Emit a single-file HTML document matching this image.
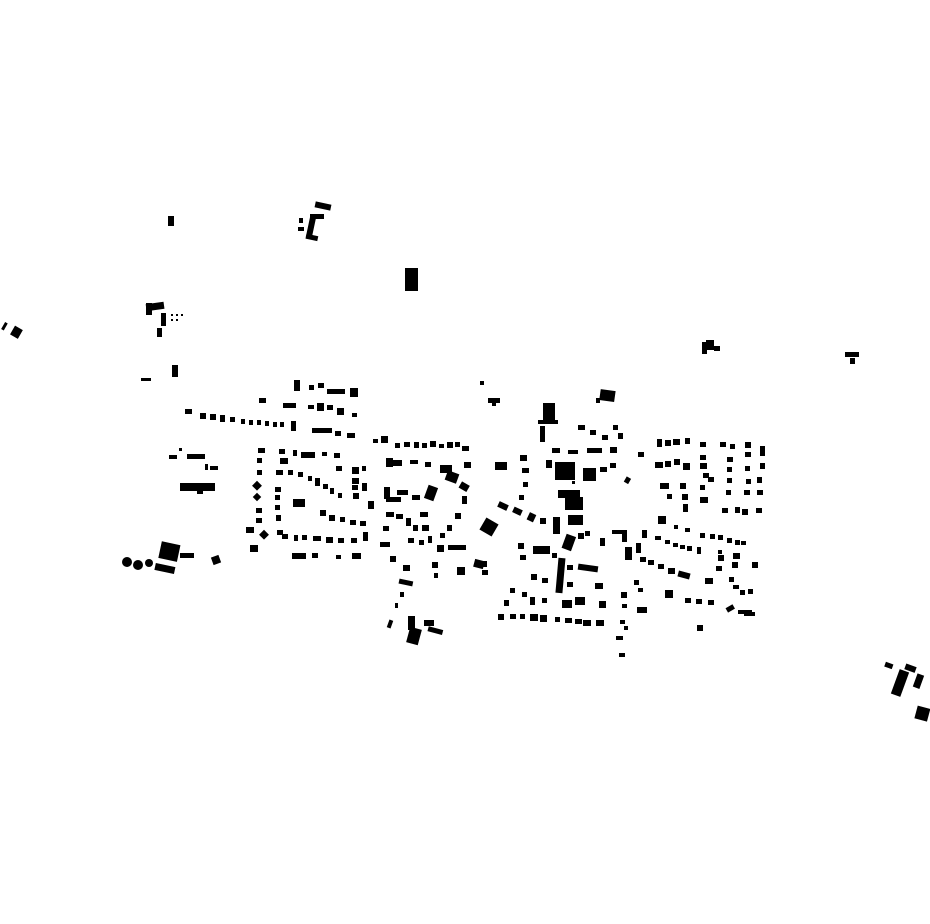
<!DOCTYPE html>
<html><head><meta charset="utf-8"><style>html,body{margin:0;padding:0;background:#fff}svg{display:block}</style></head>
<body>
<svg width="930" height="924" viewBox="0 0 930 924" xmlns="http://www.w3.org/2000/svg">
<g fill="#000">
<!-- outliers -->
<rect x="168" y="216" width="6" height="10"/>
<rect x="315" y="203" width="16" height="6" transform="rotate(12 323 206)"/>
<rect x="308" y="216" width="6" height="22" transform="rotate(12 311 227)"/>
<rect x="310" y="214" width="14" height="5"/>
<rect x="299" y="218" width="4" height="5"/>
<rect x="298" y="227" width="6" height="4"/>
<rect x="306" y="235" width="12" height="5" transform="rotate(12 312 237)"/>
<rect x="405" y="268" width="13" height="23"/>
<rect x="146" y="303" width="6" height="12"/>
<rect x="146" y="303" width="18" height="7" transform="rotate(-8 155 306)"/>
<rect x="161" y="313" width="5" height="13"/>
<rect x="157" y="328" width="5" height="9"/>
<rect x="171" y="314" width="2" height="2"/><rect x="176" y="314" width="2" height="2"/><rect x="181" y="314" width="2" height="2"/>
<rect x="171" y="319" width="2" height="2"/><rect x="176" y="319" width="2" height="2"/>
<rect x="12" y="327" width="9" height="10" transform="rotate(30 16 332)"/>
<rect x="3" y="322" width="3" height="8" transform="rotate(30 4 326)"/>
<rect x="141" y="378" width="10" height="3"/>
<rect x="172" y="365" width="6" height="12"/>
<rect x="702" y="342" width="5" height="12"/>
<rect x="706" y="340" width="8" height="10"/>
<rect x="714" y="346" width="6" height="5"/>
<rect x="845" y="352" width="14" height="5"/>
<rect x="850" y="358" width="5" height="6"/>
<rect x="885" y="663" width="8" height="5" transform="rotate(20 889 665)"/>
<rect x="895" y="670" width="10" height="26" transform="rotate(20 900 683)"/>
<rect x="905" y="665" width="11" height="6" transform="rotate(20 910 668)"/>
<rect x="915" y="674" width="7" height="14" transform="rotate(20 918 681)"/>
<rect x="916" y="707" width="13" height="13" transform="rotate(15 922 713)"/>
<circle cx="127" cy="562" r="5"/><circle cx="138" cy="565" r="5"/><circle cx="149" cy="563" r="4"/>
<rect x="160" y="543" width="19" height="17" transform="rotate(12 169 551)"/>
<rect x="180" y="553" width="14" height="5"/>
<rect x="155" y="565" width="20" height="7" transform="rotate(12 165 568)"/>
<rect x="212" y="556" width="8" height="8" transform="rotate(-20 216 560)"/>
<rect x="388" y="620" width="4" height="8" transform="rotate(20 390 624)"/>
<rect x="408" y="616" width="7" height="14"/>
<rect x="408" y="628" width="12" height="16" transform="rotate(15 414 636)"/>
<rect x="424" y="620" width="10" height="6"/>
<rect x="428" y="628" width="15" height="5" transform="rotate(15 435 630)"/>
<rect x="480" y="381" width="4" height="4"/>
<rect x="488" y="398" width="12" height="5"/>
<rect x="492" y="402" width="4" height="4"/>
<!-- NW rows -->
<rect x="294" y="380" width="6" height="11"/>
<rect x="309" y="385" width="5" height="5"/><rect x="318" y="383" width="6" height="5"/>
<rect x="327" y="389" width="18" height="5"/><rect x="350" y="388" width="8" height="9"/>
<rect x="259" y="398" width="7" height="5"/>
<rect x="283" y="403" width="13" height="5"/>
<rect x="308" y="405" width="6" height="4"/><rect x="317" y="403" width="7" height="8"/>
<rect x="327" y="405" width="6" height="5"/><rect x="337" y="408" width="7" height="7"/><rect x="352" y="413" width="5" height="4"/>
<rect x="185" y="409" width="7" height="5"/>
<rect x="200" y="413" width="6" height="6"/><rect x="210" y="414" width="6" height="6"/><rect x="220" y="415" width="5" height="7"/>
<rect x="230" y="417" width="5" height="5"/><rect x="241" y="419" width="4" height="5"/><rect x="249" y="420" width="4" height="5"/>
<rect x="257" y="420" width="4" height="5"/><rect x="265" y="421" width="4" height="5"/><rect x="273" y="422" width="4" height="5"/><rect x="280" y="422" width="4" height="5"/>
<rect x="291" y="421" width="5" height="10"/>
<rect x="312" y="428" width="20" height="5"/><rect x="335" y="431" width="6" height="5"/><rect x="347" y="433" width="8" height="5"/>
<rect x="169" y="455" width="8" height="4"/><rect x="179" y="448" width="3" height="3"/>
<rect x="187" y="454" width="18" height="5"/>
<rect x="205" y="464" width="3" height="6"/><rect x="210" y="466" width="8" height="4"/>
<rect x="180" y="483" width="35" height="8"/><rect x="197" y="488" width="6" height="6"/>
<!-- west loop -->
<rect x="258" y="448" width="7" height="5"/>
<rect x="257" y="458" width="5" height="5"/><rect x="257" y="470" width="5" height="5"/>
<rect x="254" y="482" width="7" height="7" transform="rotate(45 257 485)"/>
<rect x="254" y="494" width="6" height="6" transform="rotate(45 257 497)"/>
<rect x="256" y="508" width="6" height="5"/><rect x="256" y="518" width="6" height="5"/>
<rect x="246" y="527" width="8" height="6"/><rect x="261" y="531" width="7" height="7" transform="rotate(45 264 534)"/>
<rect x="250" y="545" width="8" height="7"/>
<rect x="279" y="449" width="6" height="5"/><rect x="293" y="450" width="4" height="6"/>
<rect x="301" y="452" width="14" height="6"/><rect x="322" y="452" width="5" height="4"/><rect x="334" y="453" width="6" height="5"/>
<rect x="280" y="458" width="8" height="6"/><rect x="276" y="470" width="7" height="5"/><rect x="288" y="470" width="5" height="5"/>
<rect x="298" y="472" width="5" height="5"/><rect x="308" y="476" width="4" height="5"/><rect x="315" y="478" width="5" height="8"/>
<rect x="323" y="484" width="5" height="5"/><rect x="330" y="488" width="4" height="6"/><rect x="338" y="493" width="4" height="5"/>
<rect x="336" y="466" width="6" height="5"/><rect x="352" y="467" width="7" height="7"/><rect x="352" y="478" width="7" height="6"/>
<rect x="352" y="485" width="6" height="5"/><rect x="353" y="493" width="6" height="6"/><rect x="362" y="466" width="4" height="5"/>
<rect x="362" y="483" width="5" height="8"/><rect x="368" y="501" width="6" height="8"/>
<rect x="275" y="487" width="6" height="5"/><rect x="275" y="495" width="5" height="5"/>
<rect x="293" y="499" width="12" height="8"/>
<rect x="275" y="505" width="5" height="5"/><rect x="276" y="515" width="5" height="6"/>
<rect x="277" y="530" width="6" height="5"/>
<rect x="320" y="510" width="6" height="6"/><rect x="329" y="515" width="6" height="6"/><rect x="340" y="517" width="5" height="5"/>
<rect x="350" y="520" width="6" height="5"/><rect x="360" y="521" width="6" height="5"/>
<rect x="282" y="534" width="6" height="5"/><rect x="294" y="535" width="4" height="6"/><rect x="302" y="535" width="5" height="5"/>
<rect x="313" y="536" width="8" height="5"/><rect x="326" y="537" width="7" height="6"/><rect x="338" y="538" width="6" height="5"/>
<rect x="351" y="538" width="6" height="5"/><rect x="363" y="532" width="5" height="9"/>
<rect x="292" y="553" width="14" height="6"/><rect x="312" y="553" width="6" height="5"/><rect x="336" y="555" width="5" height="4"/><rect x="352" y="553" width="9" height="6"/>
<!-- central-west -->
<rect x="373" y="439" width="5" height="4"/><rect x="381" y="436" width="7" height="7"/><rect x="395" y="443" width="5" height="5"/>
<rect x="404" y="442" width="6" height="5"/><rect x="414" y="442" width="5" height="6"/><rect x="422" y="443" width="5" height="5"/>
<rect x="430" y="441" width="6" height="6"/><rect x="439" y="444" width="5" height="4"/><rect x="447" y="442" width="6" height="6"/>
<rect x="455" y="442" width="5" height="5"/><rect x="462" y="446" width="7" height="5"/>
<rect x="386" y="458" width="7" height="9"/><rect x="388" y="460" width="14" height="6"/>
<rect x="410" y="460" width="8" height="4"/><rect x="425" y="462" width="6" height="5"/><rect x="440" y="465" width="12" height="8"/>
<rect x="446" y="472" width="12" height="10" transform="rotate(20 452 477)"/><rect x="460" y="483" width="9" height="7" transform="rotate(30 464 486)"/>
<rect x="464" y="462" width="7" height="6"/>
<rect x="384" y="487" width="6" height="12"/><rect x="386" y="497" width="15" height="5"/>
<rect x="397" y="490" width="11" height="5"/><rect x="412" y="495" width="8" height="5"/>
<rect x="426" y="486" width="10" height="14" transform="rotate(20 431 493)"/>
<rect x="462" y="496" width="5" height="8"/><rect x="455" y="513" width="6" height="6"/><rect x="447" y="525" width="5" height="6"/>
<rect x="440" y="533" width="5" height="5"/><rect x="437" y="545" width="7" height="7"/>
<rect x="386" y="512" width="8" height="5"/><rect x="396" y="514" width="7" height="5"/><rect x="406" y="518" width="5" height="8"/>
<rect x="413" y="525" width="5" height="6"/><rect x="420" y="512" width="8" height="5"/><rect x="422" y="525" width="7" height="6"/>
<rect x="383" y="526" width="6" height="5"/><rect x="380" y="542" width="10" height="5"/>
<rect x="408" y="538" width="6" height="5"/><rect x="419" y="540" width="5" height="5"/><rect x="428" y="536" width="4" height="7"/>
<rect x="448" y="545" width="18" height="5"/>
<rect x="390" y="556" width="6" height="6"/><rect x="403" y="565" width="7" height="6"/><rect x="399" y="580" width="14" height="5" transform="rotate(12 406 582)"/>
<rect x="432" y="562" width="6" height="6"/><rect x="434" y="573" width="4" height="5"/>
<rect x="457" y="567" width="8" height="8"/><rect x="474" y="560" width="10" height="8" transform="rotate(15 479 564)"/>
<rect x="482" y="570" width="6" height="5"/>
<rect x="400" y="592" width="4" height="5"/><rect x="395" y="603" width="3" height="5"/>
<!-- central -->
<rect x="482" y="520" width="14" height="14" transform="rotate(30 489 527)"/>
<rect x="495" y="462" width="12" height="8"/>
<rect x="498" y="503" width="10" height="6" transform="rotate(25 503 506)"/>
<rect x="513" y="508" width="9" height="6" transform="rotate(25 517 511)"/>
<rect x="528" y="513" width="7" height="8" transform="rotate(25 531 517)"/><rect x="540" y="518" width="6" height="6"/>
<rect x="553" y="517" width="7" height="17"/>
<rect x="520" y="455" width="7" height="6"/><rect x="522" y="468" width="7" height="5"/><rect x="523" y="482" width="5" height="5"/><rect x="519" y="495" width="5" height="5"/>
<rect x="543" y="403" width="12" height="19"/><rect x="538" y="420" width="20" height="4"/><rect x="540" y="426" width="5" height="16"/>
<rect x="600" y="390" width="15" height="11" transform="rotate(8 607 395)"/><rect x="596" y="398" width="4" height="5"/>
<rect x="578" y="425" width="7" height="5"/><rect x="590" y="430" width="6" height="5"/><rect x="602" y="435" width="6" height="5"/>
<rect x="613" y="425" width="5" height="5"/><rect x="618" y="433" width="5" height="6"/><rect x="610" y="447" width="7" height="6"/>
<rect x="552" y="448" width="8" height="5"/><rect x="568" y="450" width="10" height="4"/><rect x="587" y="448" width="15" height="5"/>
<rect x="546" y="460" width="6" height="8"/>
<rect x="555" y="462" width="20" height="18"/><rect x="583" y="468" width="13" height="13"/><rect x="600" y="467" width="7" height="5"/><rect x="610" y="463" width="6" height="5"/>
<rect x="625" y="477" width="5" height="6" transform="rotate(30 627 480)"/>
<rect x="572" y="481" width="3" height="3"/>
<rect x="558" y="490" width="22" height="8"/><rect x="565" y="497" width="18" height="13"/><rect x="568" y="515" width="15" height="10"/>
<rect x="564" y="535" width="10" height="15" transform="rotate(20 569 542)"/><rect x="578" y="533" width="6" height="6"/><rect x="585" y="531" width="5" height="5"/>
<rect x="600" y="538" width="5" height="8"/><rect x="612" y="530" width="15" height="4"/><rect x="622" y="530" width="5" height="12"/>
<rect x="518" y="543" width="6" height="6"/><rect x="520" y="555" width="6" height="5"/><rect x="533" y="546" width="17" height="8"/><rect x="552" y="553" width="5" height="5"/>
<rect x="480" y="561" width="7" height="6"/>
<rect x="557" y="558" width="7" height="35" transform="rotate(5 560 575)"/>
<rect x="567" y="565" width="6" height="5"/><rect x="578" y="565" width="20" height="6" transform="rotate(8 588 568)"/>
<rect x="531" y="574" width="6" height="6"/><rect x="542" y="578" width="6" height="5"/><rect x="567" y="582" width="6" height="5"/><rect x="595" y="583" width="8" height="6"/>
<rect x="510" y="588" width="5" height="5"/><rect x="522" y="592" width="5" height="5"/><rect x="530" y="597" width="5" height="8"/><rect x="542" y="598" width="5" height="5"/>
<rect x="562" y="600" width="10" height="8"/><rect x="575" y="597" width="10" height="8"/><rect x="599" y="601" width="7" height="7"/>
<rect x="504" y="600" width="5" height="6"/>
<rect x="498" y="614" width="6" height="6"/><rect x="510" y="614" width="6" height="5"/><rect x="520" y="614" width="5" height="5"/>
<rect x="530" y="614" width="8" height="7"/><rect x="540" y="615" width="7" height="7"/><rect x="555" y="617" width="5" height="5"/>
<rect x="565" y="618" width="7" height="5"/><rect x="575" y="619" width="7" height="5"/><rect x="583" y="620" width="8" height="6"/><rect x="596" y="620" width="8" height="6"/>
<rect x="621" y="592" width="6" height="6"/><rect x="622" y="604" width="5" height="4"/><rect x="637" y="607" width="10" height="6"/>
<rect x="620" y="620" width="5" height="4"/><rect x="624" y="626" width="4" height="4"/><rect x="616" y="636" width="7" height="4"/><rect x="619" y="653" width="6" height="4"/>
<rect x="638" y="452" width="6" height="5"/>
<!-- east grid -->
<rect x="657" y="439" width="5" height="8"/><rect x="665" y="440" width="6" height="6"/><rect x="673" y="439" width="7" height="6"/><rect x="685" y="438" width="5" height="6"/>
<rect x="700" y="442" width="6" height="5"/><rect x="720" y="442" width="6" height="5"/><rect x="730" y="444" width="5" height="5"/><rect x="745" y="442" width="6" height="6"/><rect x="760" y="446" width="5" height="10"/>
<rect x="655" y="462" width="8" height="6"/><rect x="665" y="461" width="6" height="6"/><rect x="674" y="459" width="6" height="6"/><rect x="683" y="463" width="7" height="7"/>
<rect x="700" y="455" width="6" height="5"/><rect x="700" y="463" width="7" height="6"/><rect x="703" y="473" width="6" height="5"/><rect x="708" y="477" width="6" height="5"/>
<rect x="727" y="457" width="6" height="5"/><rect x="727" y="467" width="5" height="5"/><rect x="727" y="478" width="5" height="5"/><rect x="726" y="490" width="5" height="5"/>
<rect x="745" y="452" width="6" height="5"/><rect x="745" y="466" width="5" height="5"/><rect x="746" y="479" width="5" height="5"/><rect x="744" y="490" width="6" height="5"/>
<rect x="760" y="463" width="5" height="6"/><rect x="757" y="477" width="5" height="6"/><rect x="757" y="490" width="6" height="5"/>
<rect x="660" y="483" width="9" height="6"/><rect x="680" y="483" width="6" height="6"/><rect x="682" y="494" width="6" height="6"/>
<rect x="700" y="485" width="5" height="5"/><rect x="700" y="497" width="8" height="6"/>
<rect x="683" y="504" width="5" height="8"/><rect x="667" y="494" width="5" height="5"/>
<rect x="722" y="508" width="6" height="5"/><rect x="735" y="507" width="5" height="6"/><rect x="742" y="509" width="6" height="6"/><rect x="756" y="508" width="6" height="5"/>
<rect x="658" y="516" width="8" height="8"/>
<rect x="674" y="525" width="4" height="4"/><rect x="685" y="528" width="5" height="4"/>
<!-- SE -->
<rect x="642" y="530" width="5" height="8"/><rect x="636" y="543" width="5" height="10"/><rect x="625" y="547" width="7" height="13"/>
<rect x="655" y="536" width="6" height="4"/><rect x="665" y="540" width="5" height="4"/><rect x="673" y="543" width="5" height="4"/>
<rect x="680" y="545" width="5" height="4"/><rect x="687" y="546" width="5" height="5"/><rect x="697" y="547" width="4" height="7"/>
<rect x="700" y="533" width="5" height="5"/><rect x="710" y="534" width="5" height="5"/><rect x="718" y="535" width="5" height="5"/>
<rect x="727" y="538" width="5" height="5"/><rect x="735" y="540" width="5" height="5"/><rect x="741" y="541" width="5" height="4"/>
<rect x="640" y="557" width="6" height="5"/><rect x="648" y="560" width="6" height="5"/><rect x="658" y="564" width="6" height="5"/>
<rect x="668" y="568" width="7" height="6"/><rect x="678" y="572" width="12" height="6" transform="rotate(15 684 575)"/><rect x="705" y="578" width="8" height="6"/>
<rect x="718" y="555" width="6" height="6"/><rect x="716" y="566" width="6" height="5"/><rect x="718" y="550" width="4" height="4"/>
<rect x="733" y="553" width="7" height="6"/><rect x="732" y="562" width="6" height="6"/><rect x="752" y="562" width="6" height="6"/>
<rect x="729" y="577" width="5" height="5"/><rect x="733" y="585" width="6" height="4"/><rect x="740" y="590" width="5" height="5"/><rect x="748" y="589" width="5" height="5"/>
<rect x="634" y="580" width="5" height="5"/><rect x="638" y="588" width="5" height="4"/>
<rect x="665" y="590" width="8" height="8"/><rect x="685" y="598" width="6" height="5"/><rect x="696" y="599" width="6" height="5"/><rect x="708" y="600" width="6" height="5"/>
<rect x="726" y="606" width="8" height="5" transform="rotate(-30 730 608)"/><rect x="738" y="610" width="6" height="4"/><rect x="744" y="610" width="8" height="6"/><rect x="750" y="612" width="5" height="4"/>
<rect x="697" y="625" width="6" height="6"/>
</g>
</svg>
</body></html>
